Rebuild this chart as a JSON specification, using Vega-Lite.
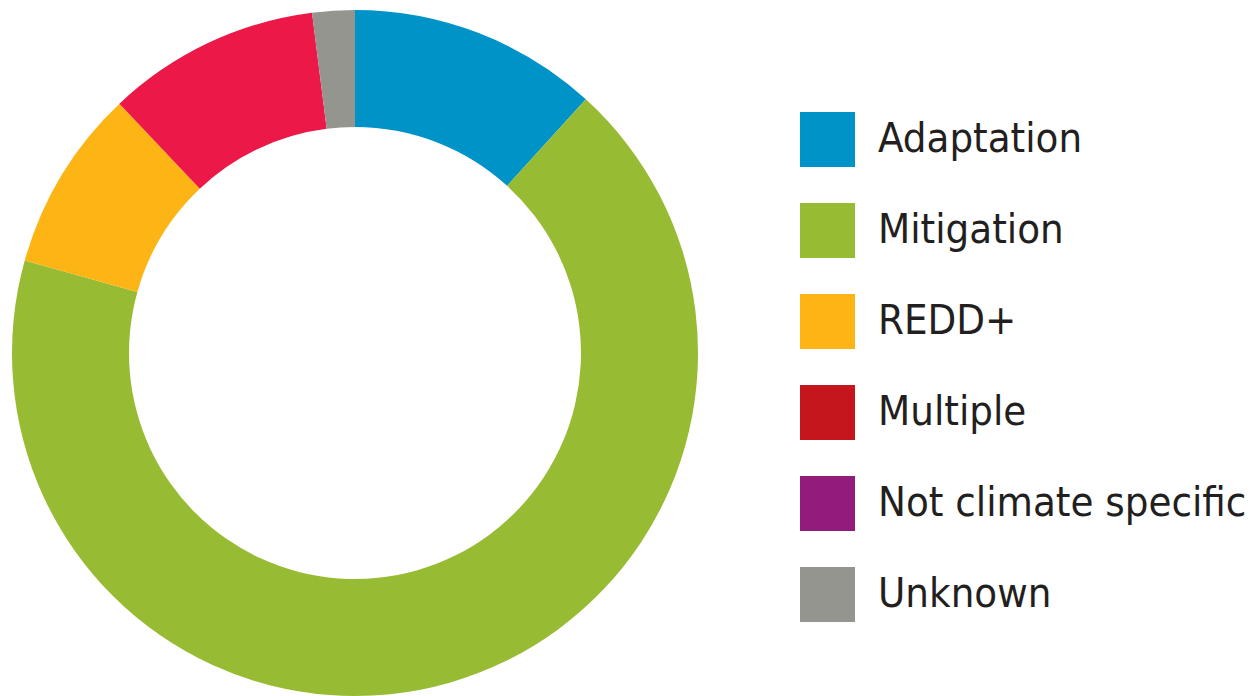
{
  "$schema": "https://vega.github.io/schema/vega-lite/v6.json",
  "width": 710,
  "height": 706,
  "padding": {"left": 0, "top": 0, "right": 0, "bottom": 0},
  "background": "white",
  "view": {"stroke": null},
  "data": {
    "values": [
      {"category": "Adaptation", "share": 11.75, "rank": 1},
      {"category": "Mitigation", "share": 67.6, "rank": 2},
      {"category": "REDD+", "share": 8.6, "rank": 3},
      {"category": "Multiple", "share": 10.05, "rank": 4},
      {"category": "Not climate specific", "share": 0, "rank": 5},
      {"category": "Unknown", "share": 2.0, "rank": 6}
    ]
  },
  "mark": {"type": "arc", "outerRadius": 343, "innerRadius": 226, "strokeWidth": 0},
  "encoding": {
    "theta": {"field": "share", "type": "quantitative", "stack": true},
    "order": {"field": "rank", "type": "quantitative"},
    "fill": {
      "condition": {"test": "datum.category === 'Multiple'", "value": "#ec1848"},
      "field": "category",
      "type": "nominal",
      "scale": {
        "domain": ["Adaptation", "Mitigation", "REDD+", "Multiple", "Not climate specific", "Unknown"],
        "range": ["#0093c7", "#97bb33", "#fdb515", "#c4161c", "#931b7c", "#959590"]
      },
      "legend": {
        "title": null,
        "orient": "none",
        "legendX": 800,
        "legendY": 112,
        "padding": 0,
        "symbolType": "square",
        "symbolSize": 3025,
        "symbolStrokeWidth": 0,
        "symbolOpacity": 1,
        "labelFont": "DejaVu Sans Condensed, Roboto, sans-serif",
        "labelFontSize": 41.5,
        "labelColor": "#231f20",
        "labelOffset": 23,
        "labelLimit": 500,
        "rowPadding": 36
      }
    }
  }
}
